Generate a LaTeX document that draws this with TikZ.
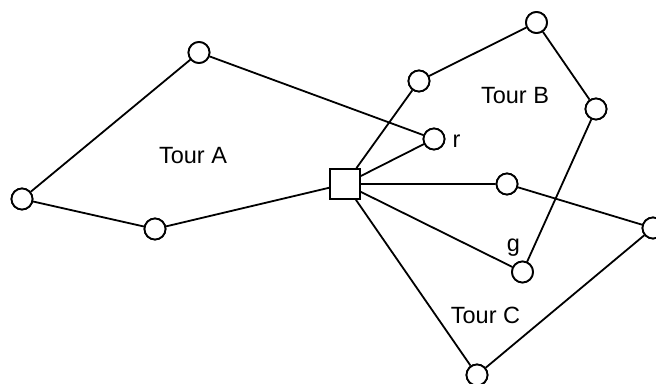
\documentclass[tikz,border=0pt]{standalone}
\usepackage{fontspec}
\setmainfont{Liberation Sans}
\begin{document}
\begin{tikzpicture}[x=1pt,y=-1pt,
  cust/.style={circle,draw,line width=1.8pt,fill=white,minimum size=21pt,inner sep=0pt},
  depot/.style={rectangle,draw,line width=1.8pt,fill=white,minimum size=30pt,inner sep=0pt},
  edge/.style={line width=1.8pt},
  lbl/.style={inner sep=0pt,anchor=base,font=\fontsize{23.5}{28}\selectfont}]
\useasboundingbox (0,0) rectangle (656,383);
\node[depot] (d) at (345,184) {};
\node[cust] (a1) at (199,52.5) {};
\node[cust] (a2) at (22,199) {};
\node[cust] (a3) at (155,229) {};
\node[cust] (r) at (434,139) {};
\node[cust] (b1) at (419,81) {};
\node[cust] (b2) at (536.5,22.5) {};
\node[cust] (b3) at (596,109) {};
\node[cust] (g) at (522.5,272) {};
\node[cust] (c1) at (507,184) {};
\node[cust] (c2) at (653,228) {};
\node[cust] (c3) at (477,375) {};
\draw[edge] (d) -- (a3) -- (a2) -- (a1) -- (r) -- (d);
\draw[edge] (d) -- (b1) -- (b2) -- (b3) -- (g) -- (d);
\draw[edge] (d) -- (c1) -- (c2) -- (c3) -- (d);
\node[depot] at (d) {};
\foreach \n in {a1,a2,a3,r,b1,b2,b3,g,c1,c2,c3} \node[cust] at (\n) {};
\node[lbl] (ta) at (193,163) {Tour A};
\node[lbl] (tb) at (515,103) {Tour B};
\node[lbl] (tc) at (485.5,323) {Tour C};
\node[lbl] (rl) at (456.5,147) {r};
\node[lbl] (gl) at (513.5,251) {g};
\end{tikzpicture}
\end{document}
